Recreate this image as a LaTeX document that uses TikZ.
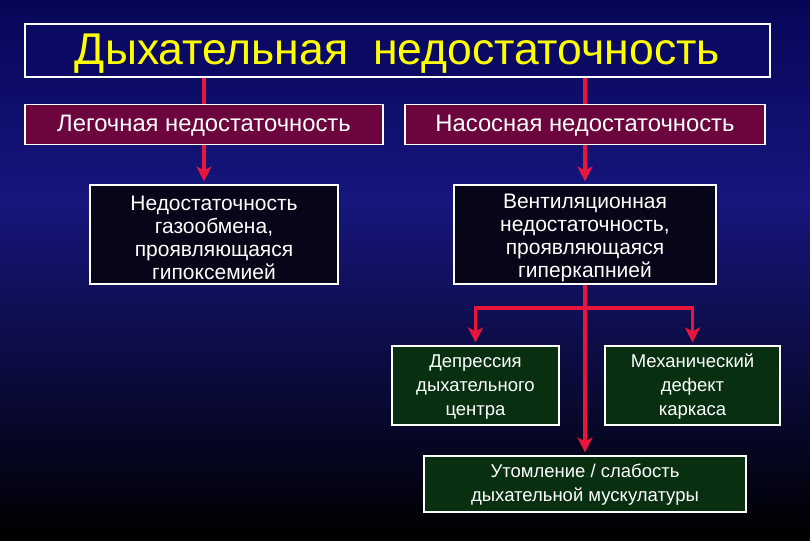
\documentclass[tikz,border=0pt]{standalone}
\usepackage{fontspec}
\setmainfont{Liberation Sans}
\usetikzlibrary{arrows.meta}
\definecolor{bgtop}{RGB}{6,6,88}
\definecolor{bgmid}{RGB}{22,22,125}
\definecolor{titlefill}{RGB}{10,10,100}
\definecolor{maroonfill}{RGB}{108,4,62}
\definecolor{darkfill}{RGB}{6,6,24}
\definecolor{greenfill}{RGB}{8,48,16}
\definecolor{redline}{RGB}{232,22,60}
\definecolor{titleyellow}{RGB}{255,255,0}
\tikzset{
  basebox/.style={draw=white, line width=1.1pt, inner sep=0pt},
  titlebox/.style={basebox, fill=titlefill},
  levelone/.style={basebox, fill=maroonfill},
  leveltwo/.style={basebox, fill=darkfill},
  greenbox/.style={basebox, fill=greenfill},
  txt/.style={inner sep=0pt, align=center, text=white},
  titletxt/.style={txt, text=titleyellow, font=\fontsize{44.5}{48}\selectfont},
  onetxt/.style={txt, font=\fontsize{23.8}{26}\selectfont},
  twotxt/.style={txt, font=\fontsize{21}{23}\selectfont},
  greentxt/.style={txt, font=\fontsize{18.5}{24}\selectfont},
  conn/.style={draw=redline, line width=3.6pt},
  arr/.style={conn, -{Stealth[length=15pt,width=15pt,inset=4pt]}, shorten >=3pt}
}
\begin{document}
\begin{tikzpicture}[x=1pt,y=-1pt]
\useasboundingbox (0,0) rectangle (810,540);
\shade[top color=bgtop, bottom color=bgmid] (0,0) rectangle (810,200);
\shade[top color=bgmid, bottom color=black] (0,199.5) rectangle (810,540);

\node[titlebox, minimum width=745pt, minimum height=53pt] (title) at (397.5,50.5) {};
\node[titletxt] (titleT) at ([yshift=-3.5pt]title.center) {Дыхательная\ \ недостаточность};
\node[levelone, minimum width=358pt, minimum height=40pt] (lung) at (204,124.5) {};
\node[onetxt] (lungT) at ([yshift=-1.5pt]lung.center) {Легочная недостаточность};
\node[levelone, minimum width=360pt, minimum height=40pt] (pump) at (585,124.5) {};
\node[onetxt] (pumpT) at ([yshift=-1.5pt]pump.center) {Насосная недостаточность};
\node[leveltwo, minimum width=248pt, minimum height=99pt] (gas) at (214,234.5) {};
\node[twotxt] (gasT) at ([yshift=-3pt]gas.center) {Недостаточность\\газообмена,\\проявляющаяся\\гипоксемией};
\node[leveltwo, minimum width=262pt, minimum height=99pt] (vent) at (585,234.5) {};
\node[twotxt] (ventT) at ([yshift=-3pt]vent.center) {Вентиляционная\\недостаточность,\\ проявляющаяся\\гиперкапнией};
\node[greenbox, minimum width=167pt, minimum height=79pt] (dep) at (475.5,385.5) {};
\node[greentxt] (depT) at ([yshift=-1.5pt]dep.center) {Депрессия\\дыхательного\\центра};
\node[greenbox, minimum width=175pt, minimum height=79pt] (mech) at (692.5,385.5) {};
\node[greentxt] (mechT) at ([yshift=-1.5pt]mech.center) {Механический\\дефект\\каркаса};
\node[greenbox, minimum width=322pt, minimum height=56pt] (fat) at (585,484) {};
\node[greentxt] (fatT) at ([yshift=-1pt]fat.center) {Утомление / слабость\\дыхательной мускулатуры};

\coordinate (br) at (585,308);

\draw[conn] (title.south -| lung.north) -- (lung.north);
\draw[conn] (title.south -| pump.north) -- (pump.north);
\draw[arr] (lung.south) -- (lung.south |- gas.north);
\draw[arr] (pump.south) -- (pump.south |- vent.north);
\draw[arr] (br) -| (dep.north);
\draw[arr] (br) -| (mech.north);
\draw[arr] (vent.south) -- (vent.south |- fat.north);
\end{tikzpicture}
\end{document}
